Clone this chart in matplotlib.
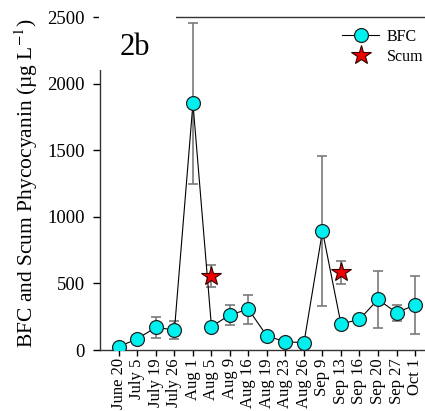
import numpy as np
import matplotlib
matplotlib.use("Agg")
import matplotlib.pyplot as plt
import matplotlib.patches as mpatches

plt.rcParams["font.family"] = ["Liberation Serif", "DejaVu Serif"]
plt.rcParams["mathtext.fontset"] = "stix"

# ── Data ──────────────────────────────────────────────────────────────────────
dates = ["June 20", "July 5", "July 19", "July 26", "Aug 1", "Aug 5", "Aug 9",
         "Aug 16", "Aug 19", "Aug 23", "Aug 26", "Sep 9", "Sep 13", "Sep 16",
         "Sep 20", "Sep 27", "Oct 1"]
bfc = [25, 85, 170, 150, 1852, 175, 265, 305, 105, 62, 55, 893, 195, 230,
       380, 280, 338]
bfc_err = [0, 0, 80, 70, 605, 0, 75, 110, 0, 0, 0, 563, 0, 0, 212, 60, 220]
scum = [np.nan, np.nan, np.nan, np.nan, np.nan, 555, np.nan, np.nan, np.nan,
        np.nan, np.nan, np.nan, 583, np.nan, np.nan, np.nan, np.nan]
scum_err = [0, 0, 0, 0, 0, 80, 0, 0, 0, 0, 0, 0, 85, 0, 0, 0, 0]

x = np.arange(len(dates))

fig = plt.figure(figsize=(4.25, 4.11), dpi=100)
ax = fig.add_axes([0.235, 0.1484, 0.765, 0.8102])

# error bars (grey, behind markers)
ax.errorbar(x, bfc, yerr=bfc_err, fmt="none", ecolor="#7a7a7a", elinewidth=1.2,
            capsize=3.6, capthick=1.2, zorder=1)
ax.errorbar(x, scum, yerr=scum_err, fmt="none", ecolor="#7a7a7a", elinewidth=1.2,
            capsize=3.6, capthick=1.2, zorder=1)

ax.plot(x, bfc, color="black", lw=0.8, marker="o", ms=10, mfc="#00f0f0",
        mec="#222222", mew=0.9, zorder=3, label="BFC")
ax.plot(x, scum, ls="none", marker="*", ms=15, mfc="#ee0000", mec="#330000",
        mew=0.8, zorder=4, label="Scum")

ax.set_xlim(-1.03, 16.54)
ax.set_ylim(0, 2500)
ax.set_yticks(np.arange(0, 2501, 500))
ax.set_xticks(x)
ax.set_xticklabels(dates, rotation=90, fontsize=12)
ax.tick_params(axis="x", direction="out", length=4, width=1, pad=2)
ax.tick_params(axis="y", direction="out", length=5, width=1, labelsize=13.5, pad=6)
ax.spines["right"].set_visible(False)
for s in ["left", "top", "bottom"]:
    ax.spines[s].set_linewidth(1.0)
    ax.spines[s].set_color("#333333")

ax.set_ylabel(r"BFC and Scum Phycocyanin (µg L$^{-1}$)", fontsize=15.5)
ax.yaxis.set_label_coords(-0.185, 0.5)

# white panel label box that hides the top-left corner of the frame
ax.add_patch(mpatches.Rectangle((-0.004, 0.841), 0.238, 0.2, transform=ax.transAxes,
                                facecolor="white", edgecolor="none",
                                clip_on=False, zorder=5))
ax.text(0.062, 0.886, "2b", transform=ax.transAxes, fontsize=22,
        ha="left", va="baseline", zorder=6)

fig.legend(loc="upper left", bbox_to_anchor=(0.79, 0.945), frameon=False,
           fontsize=11.5, handlelength=2.3, handletextpad=0.5, labelspacing=0.25,
           borderaxespad=0)

fig.savefig("out.png", dpi=100)
